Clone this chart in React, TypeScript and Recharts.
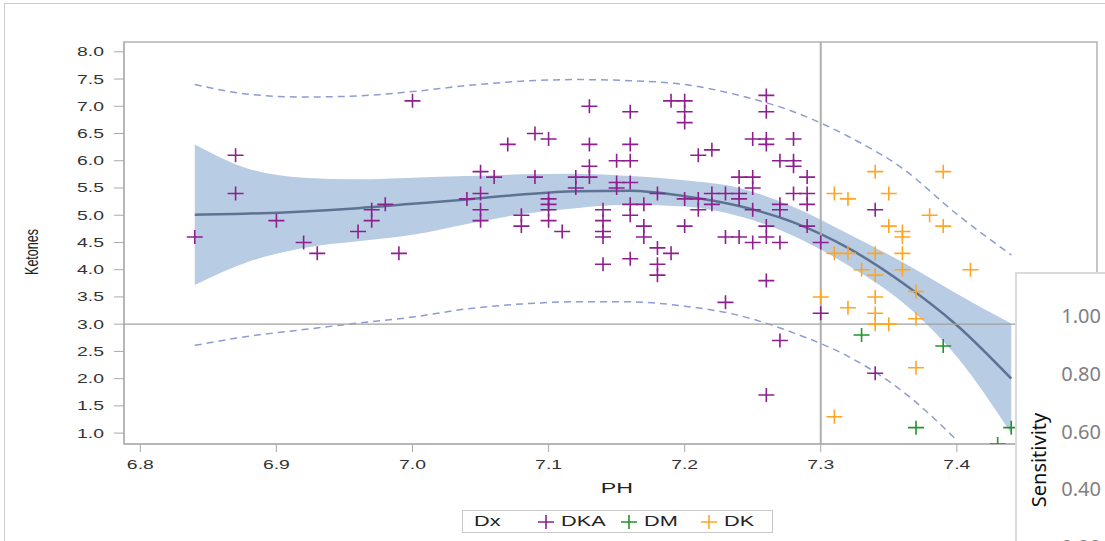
import {
  Area,
  ComposedChart,
  Label,
  Line,
  ReferenceArea,
  ReferenceLine,
  Scatter,
  XAxis,
  YAxis,
} from "recharts";

// observed points [PH, Ketones]
const dka: [number, number][] = [
  [6.84, 4.6], [6.87, 6.1], [6.87, 5.4], [6.9, 4.9], [6.92, 4.5], [6.93, 4.3],
  [6.96, 4.7], [6.97, 4.9], [6.97, 5.1], [6.98, 5.2], [6.99, 4.3], [7.0, 7.1],
  [7.04, 5.3], [7.05, 5.8], [7.05, 5.4], [7.05, 5.1], [7.05, 4.9], [7.06, 5.7],
  [7.07, 6.3], [7.08, 5.0], [7.08, 4.8], [7.09, 6.5], [7.09, 5.7], [7.1, 6.4],
  [7.1, 5.3], [7.1, 5.2], [7.1, 5.1], [7.1, 4.9], [7.11, 4.7], [7.12, 5.7],
  [7.12, 5.5], [7.13, 7.0], [7.13, 6.3], [7.13, 5.9], [7.13, 5.7], [7.14, 5.1],
  [7.14, 4.9], [7.14, 4.7], [7.14, 4.6], [7.14, 4.1], [7.15, 6.0], [7.15, 5.6],
  [7.15, 5.5], [7.16, 6.9], [7.16, 6.3], [7.16, 6.0], [7.16, 5.6], [7.16, 5.2],
  [7.16, 5.0], [7.16, 4.2], [7.17, 5.2], [7.17, 4.8], [7.17, 4.6], [7.18, 5.4],
  [7.18, 4.4], [7.18, 4.1], [7.18, 3.9], [7.19, 7.1], [7.19, 4.3], [7.2, 7.1],
  [7.2, 6.9], [7.2, 6.7], [7.2, 5.3], [7.2, 4.8], [7.21, 6.1], [7.21, 5.3],
  [7.21, 5.1], [7.22, 6.2], [7.22, 5.4], [7.22, 5.2], [7.23, 5.4], [7.23, 4.6],
  [7.23, 3.4], [7.24, 5.7], [7.24, 5.4], [7.24, 5.3], [7.24, 4.6], [7.25, 6.4],
  [7.25, 5.7], [7.25, 5.5], [7.25, 5.1], [7.25, 4.5], [7.26, 7.2], [7.26, 6.9],
  [7.26, 6.4], [7.26, 6.3], [7.26, 4.8], [7.26, 4.6], [7.26, 3.8], [7.26, 1.7],
  [7.27, 6.0], [7.27, 5.2], [7.27, 5.1], [7.27, 4.5], [7.27, 2.7], [7.28, 6.4],
  [7.28, 6.0], [7.28, 5.9], [7.28, 5.4], [7.29, 5.7], [7.29, 5.4], [7.29, 5.2],
  [7.29, 4.8], [7.3, 4.5], [7.3, 3.2], [7.34, 5.1], [7.34, 2.1],
];
const dm: [number, number][] = [
  [7.33, 2.8], [7.37, 1.1], [7.39, 2.6], [7.43, 0.8], [7.44, 1.1],
];
const dk: [number, number][] = [
  [7.3, 3.5], [7.31, 5.4], [7.31, 4.3], [7.31, 1.3], [7.32, 5.3], [7.32, 4.3],
  [7.32, 3.3], [7.33, 4.0], [7.34, 5.8], [7.34, 4.3], [7.34, 3.9], [7.34, 3.5],
  [7.34, 3.2], [7.34, 3.0], [7.35, 5.4], [7.35, 4.8], [7.35, 3.0], [7.36, 4.7],
  [7.36, 4.6], [7.36, 4.3], [7.36, 4.0], [7.37, 3.6], [7.37, 3.1], [7.37, 2.2],
  [7.38, 5.0], [7.39, 5.8], [7.39, 4.8], [7.41, 4.0],
];

// fitted curve, confidence band and prediction limits
const fitPh = [6.84, 6.88, 6.92, 6.96, 7.0, 7.04, 7.08, 7.12, 7.16, 7.2, 7.24, 7.28, 7.32, 7.36, 7.4, 7.44];
const fitKet = [5.01, 5.03, 5.07, 5.13, 5.21, 5.29, 5.38, 5.44, 5.45, 5.35, 5.17, 4.87, 4.4, 3.76, 2.98, 2.0];
const clmUpper = [6.3, 5.85, 5.69, 5.66, 5.69, 5.72, 5.75, 5.76, 5.72, 5.64, 5.5, 5.15, 4.66, 4.14, 3.56, 3.01];
const clmLower = [3.72, 4.15, 4.4, 4.52, 4.64, 4.84, 5.02, 5.13, 5.19, 5.16, 4.98, 4.62, 4.08, 3.4, 2.4, 0.99];
const plUpper = [7.4, 7.22, 7.17, 7.19, 7.27, 7.38, 7.46, 7.49, 7.47, 7.4, 7.2, 6.9, 6.45, 5.86, 5.02, 4.27];
const plLower = [2.61, 2.78, 2.9, 3.02, 3.13, 3.28, 3.37, 3.41, 3.41, 3.33, 3.16, 2.84, 2.41, 1.77, 0.87, null];

const xTicks = [6.8, 6.9, 7.0, 7.1, 7.2, 7.3, 7.4];
const yTicks = [1.0, 1.5, 2.0, 2.5, 3.0, 3.5, 4.0, 4.5, 5.0, 5.5, 6.0, 6.5, 7.0, 7.5, 8.0];
const sensTicks = ["1.00", "0.80", "0.60", "0.40", "0.20"];

const groups = [
  { name: "DKA", color: "#8E1F8E", points: dka },
  { name: "DM", color: "#23932A", points: dm },
  { name: "DK", color: "#FFA522", points: dk },
];

const fitData = fitPh.map((ph, i) => ({
  ph,
  fit: fitKet[i],
  band: [clmLower[i], clmUpper[i]],
  plHi: plUpper[i],
  plLo: plLower[i],
}));

const FONT = "'Liberation Sans', Arial, sans-serif";
const STRETCH = 1.55;

const StretchText = ({ x, y, size, anchor = "start", fill = "#333", children }: any) => (
  <text
    transform={`translate(${x},${y}) scale(${STRETCH},1)`}
    textAnchor={anchor}
    fontSize={size}
    fontFamily={FONT}
    fill={fill}
  >
    {children}
  </text>
);

const XTick = (props: any) => (
  <StretchText x={props.x} y={props.y + 15} size={12.5} anchor="middle">
    {Number(props.payload.value).toFixed(1)}
  </StretchText>
);

const YTick = (props: any) => (
  <StretchText x={props.x} y={props.y + 4.5} size={12.5} anchor="end">
    {Number(props.payload.value).toFixed(1)}
  </StretchText>
);

const plusShape = (color: string) => (p: any) =>
  (
    <path
      d={`M${p.cx - 8},${p.cy}H${p.cx + 8}M${p.cx},${p.cy - 7}V${p.cy + 7}`}
      stroke={color}
      strokeWidth={1.6}
      fill="none"
    />
  );

const legendX = [75, 158, 238];

const App = () => {
  return (
    <div
      style={{
        position: "fixed",
        left: 0,
        top: 0,
        width: 1105,
        height: 541,
        overflow: "hidden",
        background: "#fff",
      }}
    >
      <div
        style={{
          position: "absolute",
          left: 4,
          top: 3,
          width: 1200,
          height: 600,
          border: "1px solid #CCCCCC",
        }}
      />
      <div style={{ position: "absolute", left: 0, top: 0 }}>
        <ComposedChart
          width={1105}
          height={541}
          margin={{ top: 42, right: 8, bottom: 67, left: 0 }}
        >
          <XAxis
            type="number"
            dataKey="ph"
            domain={[6.788, 7.503]}
            ticks={xTicks}
            allowDataOverflow
            height={30}
            tickSize={8}
            stroke="#A8A8A8"
            tick={<XTick />}
          >
            <Label
              content={() => (
                <StretchText x={617} y={493} size={15} anchor="middle" fill="#222">
                  PH
                </StretchText>
              )}
            />
          </XAxis>
          <YAxis
            type="number"
            dataKey="ket"
            domain={[0.8, 8.18]}
            ticks={yTicks}
            allowDataOverflow
            width={124}
            tickSize={10}
            tickMargin={10}
            stroke="#A8A8A8"
            tick={<YTick />}
          >
            <Label
              content={() => (
                <text
                  transform="translate(38,252) scale(1.4,1) rotate(-90)"
                  textAnchor="middle"
                  fontSize={12.5}
                  fontFamily={FONT}
                  fill="#222"
                >
                  Ketones
                </text>
              )}
            />
          </YAxis>
          <ReferenceArea
            x1={6.788}
            x2={7.503}
            y1={0.8}
            y2={8.18}
            fill="none"
            stroke="#B4B4B4"
            strokeWidth={1.5}
            ifOverflow="visible"
          />
          <Area
            data={fitData}
            dataKey="band"
            type="monotone"
            fill="#B8CCE4"
            fillOpacity={1}
            stroke="none"
            isAnimationActive={false}
          />
          <Line
            data={fitData}
            dataKey="plHi"
            type="monotone"
            stroke="#8E9CD2"
            strokeWidth={1.5}
            strokeDasharray="7 5"
            dot={false}
            isAnimationActive={false}
          />
          <Line
            data={fitData}
            dataKey="plLo"
            type="monotone"
            stroke="#8E9CD2"
            strokeWidth={1.5}
            strokeDasharray="7 5"
            dot={false}
            isAnimationActive={false}
          />
          <Line
            data={fitData}
            dataKey="fit"
            type="monotone"
            stroke="#5E7393"
            strokeWidth={2.5}
            dot={false}
            isAnimationActive={false}
          />
          {groups.map((g) => (
            <Scatter
              key={g.name}
              name={g.name}
              data={g.points.map(([ph, ket]) => ({ ph, ket }))}
              dataKey="ket"
              shape={plusShape(g.color)}
              isAnimationActive={false}
            />
          ))}
          <ReferenceLine x={7.3} stroke="#AEAEAE" strokeWidth={2} />
          <ReferenceLine y={3.0} stroke="#A0A0A0" strokeWidth={1.3} />
        </ComposedChart>
      </div>

      {/* legend */}
      <div
        style={{
          position: "absolute",
          left: 462,
          top: 510,
          width: 309,
          height: 21,
          border: "1px solid #C8C8C8",
          fontFamily: FONT,
          fontSize: 14,
          color: "#222",
        }}
      >
        <span
          style={{
            position: "absolute",
            left: 11,
            top: 2,
            transform: `scaleX(${STRETCH})`,
            transformOrigin: "left",
          }}
        >
          Dx
        </span>
        {groups.map((g, i) => (
          <div key={g.name} style={{ position: "absolute", left: legendX[i], top: 0 }}>
            <svg width={16} height={21} style={{ position: "absolute", left: 0, top: 0 }}>
              <path d="M0,11H16M8,4V18" stroke={g.color} strokeWidth={1.6} />
            </svg>
            <span
              style={{
                position: "absolute",
                left: 23,
                top: 2,
                whiteSpace: "nowrap",
                transform: `scaleX(${STRETCH})`,
                transformOrigin: "left",
              }}
            >
              {g.name}
            </span>
          </div>
        ))}
      </div>

      {/* overlapping sensitivity panel */}
      <div
        style={{
          position: "absolute",
          left: 1015,
          top: 272,
          width: 200,
          height: 300,
          background: "#fff",
          borderLeft: "2px solid #DADADA",
          borderTop: "2px solid #DADADA",
          fontFamily: "'Noto Sans', 'Open Sans', sans-serif",
        }}
      >
        <div
          style={{
            position: "absolute",
            left: 21,
            top: 186,
            transform: "translate(-50%,-50%) rotate(-90deg)",
            fontSize: 20,
            color: "#111",
            whiteSpace: "nowrap",
          }}
        >
          Sensitivity
        </div>
        {sensTicks.map((t, i) => (
          <div
            key={t}
            style={{
              position: "absolute",
              right: 200 - 84,
              top: 42 + i * 57.8 - 14,
              fontSize: 20,
              color: "#808080",
              lineHeight: "28px",
            }}
          >
            {t}
          </div>
        ))}
      </div>
    </div>
  );
};

export default App;
